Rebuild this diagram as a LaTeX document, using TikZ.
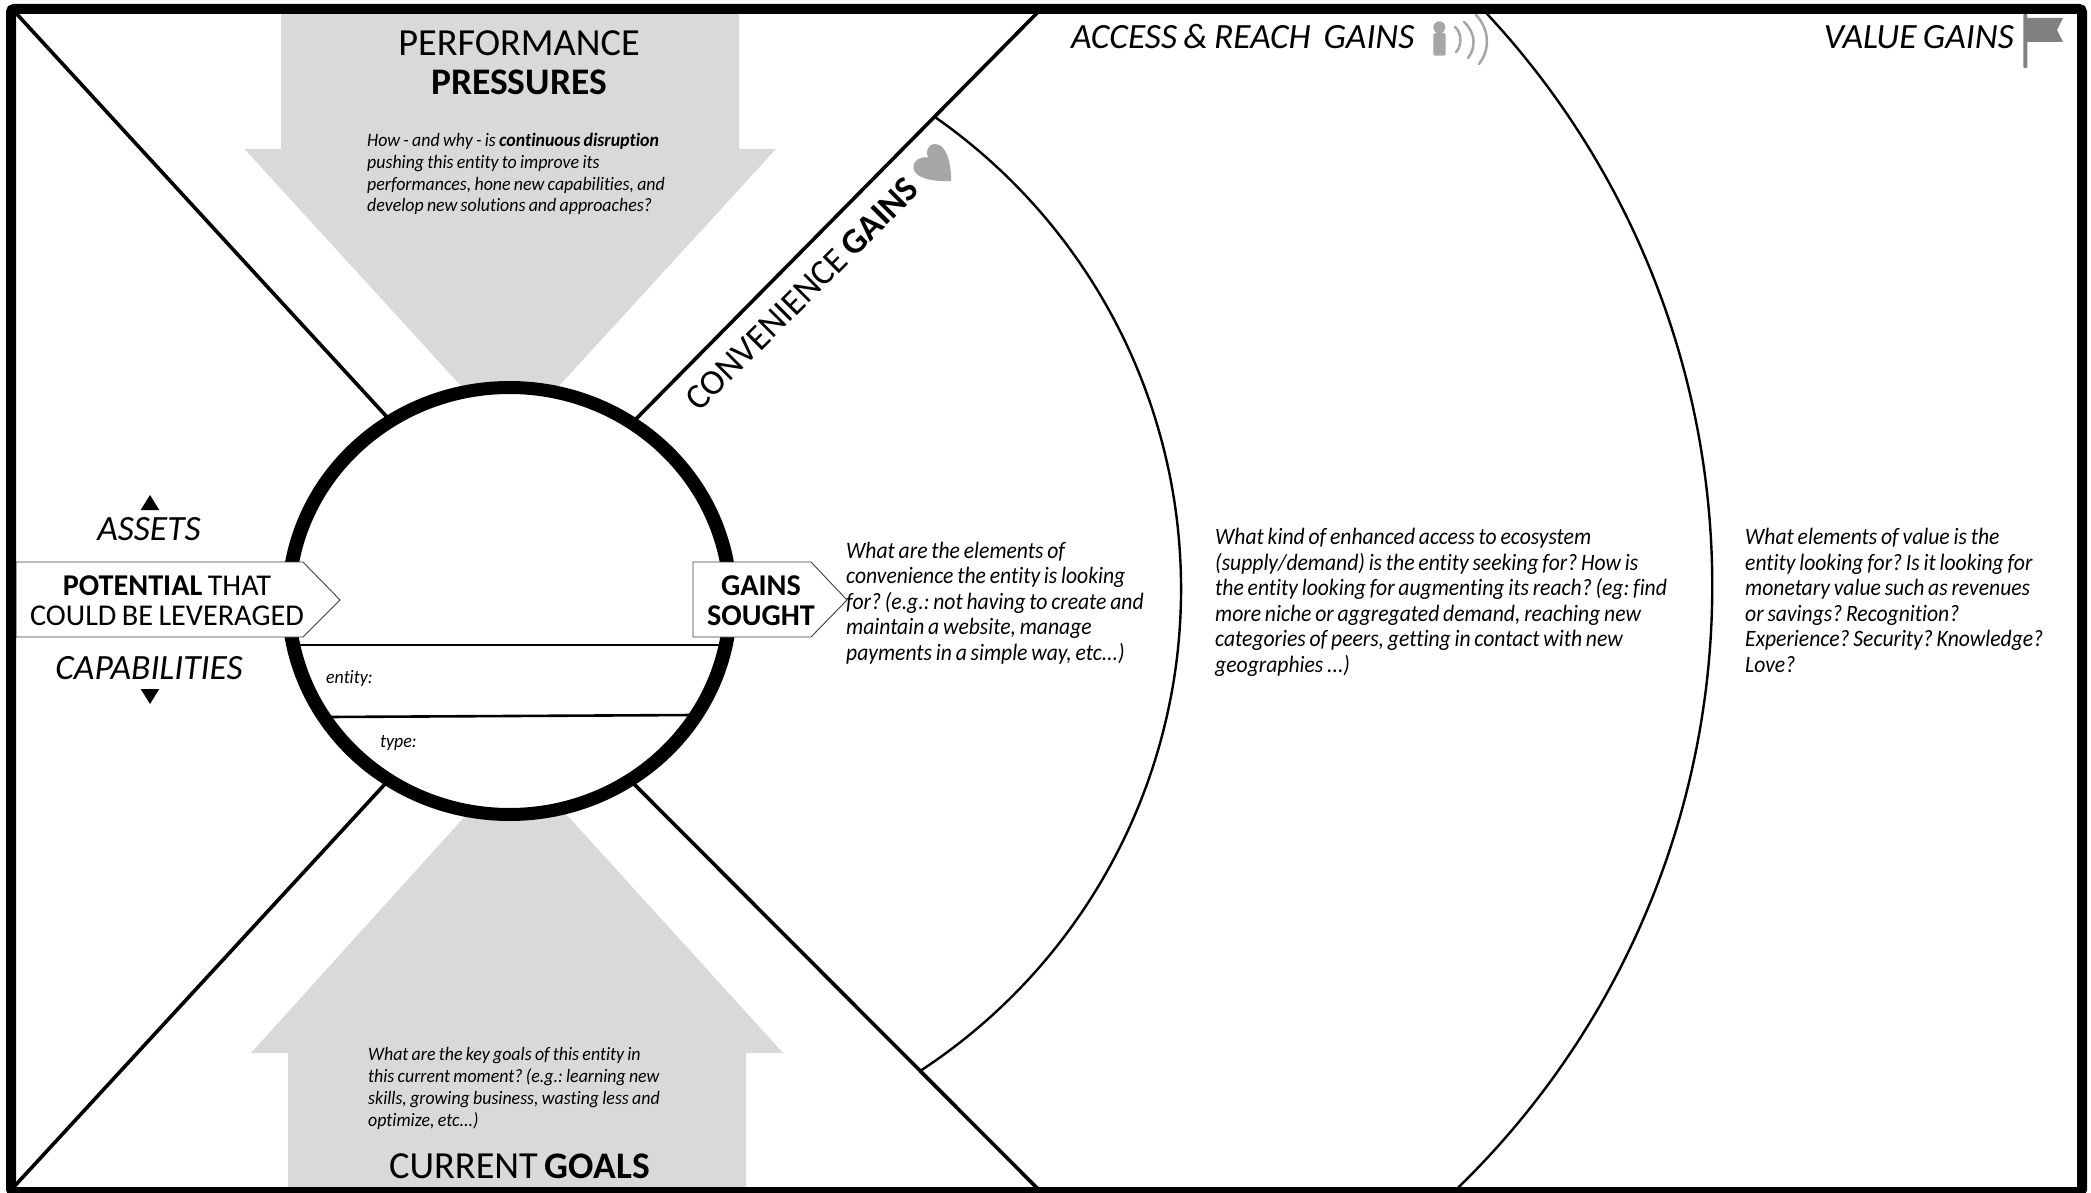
\documentclass[tikz,border=0pt]{standalone}
\usepackage{fontspec}
\setmainfont[WordSpace=0.8,Ligatures=NoCommon]{Carlito}
\newfontfamily\smallf[FakeStretch=0.94,WordSpace=0.82,Ligatures=NoCommon]{Carlito}
\newfontfamily\bodyf[FakeStretch=0.92,WordSpace=0.78,Ligatures=NoCommon]{Carlito}
\definecolor{arrowgrey}{HTML}{D9D9D9}
\definecolor{icongrey}{HTML}{A6A6A6}
\definecolor{flaggrey}{HTML}{808080}
\newcommand{\fsz}[2]{\fontsize{#1}{#2}\selectfont}
\newcommand{\hb}[1]{{\fsz{37.5}{39}\bfseries #1}}
\tikzset{
  bigarrow/.style={fill=arrowgrey,draw=none},
  diag/.style={draw=black,line width=3.6pt},
  bandarc/.style={draw=black,line width=2.4pt},
  rule/.style={draw=black,line width=2.6pt},
  tag/.style={draw=black!75,line width=0.9pt,fill=white},
  waves/.style={draw=icongrey,line width=2.5pt,line cap=round},
  head/.style={inner sep=0pt,align=center,font=\fsz{38.3}{39}},
  headit/.style={inner sep=0pt,align=center,font=\fsz{35.5}{38}\itshape},
  tagtext/.style={inner sep=0pt,align=center,font=\fsz{30.2}{30}},
  smalltext/.style={inner sep=0pt,align=left,anchor=north west,font=\smallf\fsz{19}{21.8}\itshape\frenchspacing},
  bodytext/.style={inner sep=0pt,align=left,anchor=north west,font=\bodyf\fsz{23.5}{25.6}\itshape\frenchspacing},
  tri/.style={fill=black,draw=none}
}
\begin{document}
\begin{tikzpicture}[x=1pt,y=-1pt]
\useasboundingbox (0,0) rectangle (2091,1193);
\fill[white] (0,0) rectangle (2091,1193);
% grey arrows
\fill[bigarrow] (281,10) -- (739,10) -- (739,149) -- (776,149) -- (558,387) -- (462,387) -- (244.5,149) -- (281,149) -- cycle;
\fill[bigarrow] (288,1190) -- (746,1190) -- (746,1053) -- (783,1053) -- (565,813) -- (468,813) -- (251,1053) -- (288,1053) -- cycle;
% diagonals
\coordinate (tl) at (14,11); \coordinate (tlc) at (387,417);
\coordinate (tr) at (1039,11); \coordinate (trc) at (636,419);
\coordinate (bl) at (11,1190); \coordinate (blc) at (385,784);
\coordinate (br) at (1039,1190); \coordinate (brc) at (634,784);
\draw[diag] (tl) -- (tlc);
\draw[diag] (tr) -- (trc);
\draw[diag] (bl) -- (blc);
\draw[diag] (br) -- (brc);
% arcs
\draw[bandarc] plot[domain=-55.1:56.9,samples=120] ({605.5+575.6*cos(\x)},{589+575.6*sin(\x)});
\draw[bandarc] plot[domain=-43:45.8,samples=120] ({873+839.3*cos(\x)},{586+839.3*sin(\x)});
% central circle: slightly thicker at the sides
\fill[white] (509.5,601) ellipse [x radius=216,y radius=208];
\fill[black,even odd rule] (509.5,601) ellipse [x radius=228,y radius=220] (509.5,601) ellipse [x radius=214,y radius=207];
\coordinate (r1a) at (294,645); \coordinate (r1b) at (724,645);
\coordinate (r2a) at (328,717); \coordinate (r2b) at (694,715);
\draw[rule] (r1a) -- (r1b);
\draw[rule] (r2a) -- (r2b);
\node[smalltext] (entity) at (326,670) {entity:};
\node[smalltext] (type) at (380,735) {type:};
% tags
\draw[tag] (16,562) -- (303,562) -- (340,600) -- (303,637) -- (16,637) -- cycle;
\draw[tag] (693,562) -- (811,562) -- (847,600) -- (811,637) -- (693,637) -- cycle;
\node[tagtext] (potential) at (167,601) {\textbf{POTENTIAL} THAT\\COULD BE LEVERAGED};
\node[tagtext] (sought) at (761,601) {\textbf{GAINS}\\\textbf{SOUGHT}};
% left labels
\fill[tri] (150,495) -- (159.3,510) -- (140.7,510) -- cycle;
\fill[tri] (150,704) -- (159.3,689) -- (140.7,689) -- cycle;
\node[headit] (assets) at (149,529) {ASSETS};
\node[headit] (capab) at (149,668) {CAPABILITIES};
% top and bottom headings
\node[head] (perf) at (519,62.5) {PERFORMANCE\\\hb{PRESSURES}};
\node[smalltext] (perftxt) at (367,133) {How - and why - is \textbf{continuous disruption}\\pushing this entity to improve its\\performances, hone new capabilities, and\\develop new solutions and approaches?};
\node[smalltext] (goaltxt) at (368,1047.5) {What are the key goals of this entity in\\this current moment? (e.g.: learning new\\skills, growing business, wasting less and\\optimize, etc...)};
\node[head] (goals) at (519.5,1166) {CURRENT \hb{GOALS}};
% gain headings
\node[head,font=\fsz{35.7}{38},rotate=45] (conv) at (802,294) {CONVENIENCE \textbf{GAINS}};
\node[headit,anchor=west] (access) at (1071,37) {ACCESS \& REACH\ \ GAINS};
\node[headit,anchor=east] (value) at (2014,37) {VALUE GAINS};
% body texts
\node[bodytext] (t1) at (846,541.5) {What are the elements of\\convenience the entity is looking\\for? (e.g.: not having to create and\\maintain a website, manage\\payments in a simple way, etc...)};
\node[bodytext] (t2) at (1215,528) {What kind of enhanced access to ecosystem\\(supply/demand) is the entity seeking for? How is\\the entity looking for augmenting its reach? (eg: find\\more niche or aggregated demand, reaching new\\categories of peers, getting in contact with new\\geographies ...)};
\node[bodytext] (t3) at (1745,528) {What elements of value is the\\entity looking for? Is it looking for\\monetary value such as revenues\\or savings? Recognition?\\Experience? Security? Knowledge?\\Love?};
% heart
\fill[icongrey] (951,181) .. controls (951.5,165) and (947,144) .. (935,144) .. controls (928,144) and (925,152) .. (928,157.5) .. controls (921,156) and (913,160) .. (913.5,168) .. controls (914,177) and (930,182) .. (951,181) -- cycle;
% person and waves
\fill[icongrey] (1439.3,27.3) circle (6);
\fill[icongrey,rounded corners=1.5pt] (1433.3,33) rectangle (1445.7,55.7);
\draw[waves] (1455,27) .. controls (1462,33) and (1462,46) .. (1456,52);
\draw[waves] (1464,22) .. controls (1476,33) and (1476,48) .. (1468,58);
\draw[waves] (1476,15) .. controls (1490,30) and (1490,50) .. (1479,64);
% flag
\fill[flaggrey,rounded corners=1pt] (2023.3,14) rectangle (2027.3,68);
\fill[flaggrey] (2027,18) -- (2063,18) -- (2057,30) -- (2063,42) -- (2027,42) -- cycle;
% frame
\draw[draw=black,line width=10pt,rounded corners=3pt] (11,9) rectangle (2082,1192);
\end{tikzpicture}
\end{document}
